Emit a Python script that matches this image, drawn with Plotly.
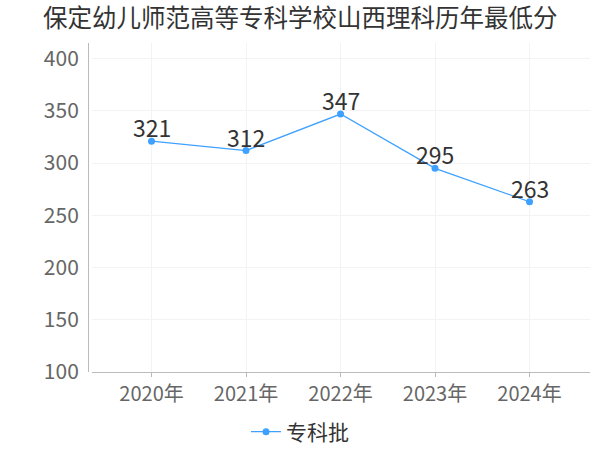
import plotly.graph_objects as go

years = ["2020年", "2021年", "2022年", "2023年", "2024年"]
scores = [321, 312, 347, 295, 263]
series_name = "专科批"
title_text = "保定幼儿师范高等专科学校山西理科历年最低分"

FONT = "Noto Sans CJK SC"
BLUE = "#3fa1ff"

fig = go.Figure()
fig.add_trace(go.Scatter(
    x=years, y=scores, name=series_name,
    mode="lines+markers",
    line=dict(color=BLUE, width=1.3),
    marker=dict(color=BLUE, size=7),
    cliponaxis=False,
))

for yr, v in zip(years, scores):
    fig.add_annotation(x=yr, y=v, text=str(v), showarrow=False,
                       yanchor="bottom", yshift=-5,
                       font=dict(family=FONT, size=23, color="#333333"))

fig.update_layout(
    width=600, height=450,
    margin=dict(l=88, r=10, t=43, b=78),
    paper_bgcolor="white", plot_bgcolor="white",
    font=dict(family=FONT),
    title=dict(text=title_text, x=0.0717, xanchor="left", y=0.958, yanchor="middle",
               font=dict(family=FONT, size=24.5, color="#333333")),
    showlegend=True,
    legend=dict(orientation="h", xref="container", yref="container",
                x=0.5, xanchor="center", y=0.04, yanchor="middle",
                font=dict(family=FONT, size=21, color="#333333"),
                itemwidth=30),
    xaxis=dict(
        domain=[4/502, 1],
        range=[-0.63, 4.64],
        automargin=False,
        showgrid=True, gridcolor="#f3f3f3", gridwidth=1,
        showline=True, linecolor="#bbbbbb", linewidth=1,
        ticks="outside", ticklen=4, tickcolor="#bbbbbb",
        tickfont=dict(family=FONT, size=20, color="#666666"),
        zeroline=False,
    ),
    yaxis=dict(
        range=[100, 415],
        tickvals=[100, 150, 200, 250, 300, 350, 400],
        anchor="free", position=0,
        automargin=False,
        showgrid=True, gridcolor="#f3f3f3", gridwidth=1,
        showline=True, linecolor="#bbbbbb", linewidth=1,
        ticks="", ticklabelstandoff=5,
        tickfont=dict(family=FONT, size=21, color="#666666"),
        zeroline=False,
    ),
)

fig.write_html("out.html", config={"displayModeBar": False},
               post_script="document.body.style.margin='0';")
